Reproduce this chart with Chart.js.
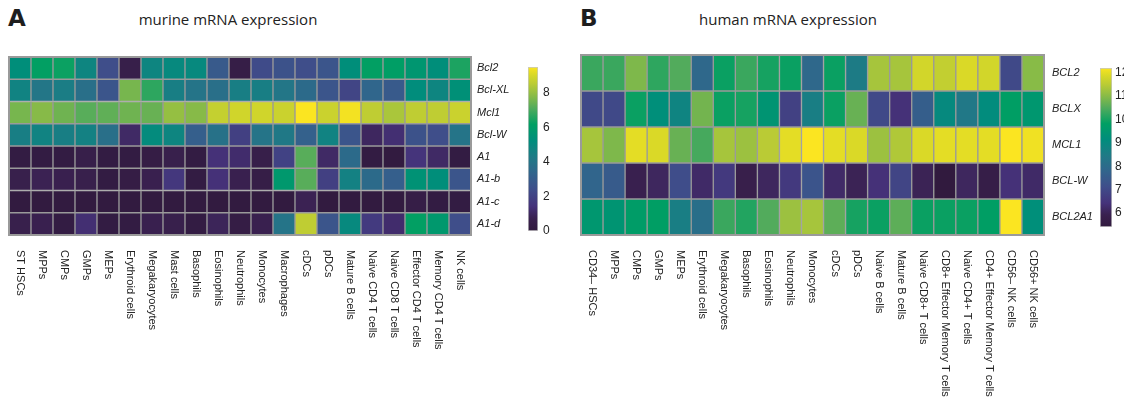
<!DOCTYPE html>
<html><head><meta charset="utf-8">
<script src="https://cdn.jsdelivr.net/npm/chart.js@4.4.1/dist/chart.umd.min.js"></script>
<style>
body{margin:0;background:#fff;width:1124px;height:398px;overflow:hidden;position:relative;font-family:"Liberation Sans",Arial,sans-serif}
canvas{position:absolute;top:0}
.letter{position:absolute;font-weight:bold;font-size:23px;line-height:23px;font-family:"DejaVu Sans",sans-serif;color:#1e1e1e}
.title{position:absolute;font-size:15px;line-height:15px;font-family:"Open Sans",sans-serif;color:#222;transform:translateX(-50%);white-space:nowrap}
</style></head><body>
<div class="letter" style="left:8px;top:7px">A</div>
<div class="title" style="left:228px;top:12px">murine mRNA expression</div>
<div class="letter" style="left:580px;top:7px">B</div>
<div class="title" style="left:788px;top:12px">human mRNA expression</div>
<canvas id="mHeat" style="left:0px" width="530" height="398"></canvas>
<canvas id="mBar" style="left:518px" width="50" height="398"></canvas>
<canvas id="hHeat" style="left:560px" width="540" height="398"></canvas>
<canvas id="hBar" style="left:1090px" width="34" height="398"></canvas>
<script>
// ---------- murine data ----------
const murineCells = ['ST HSCs','MPPs','CMPs','GMPs','MEPs','Erythroid cells','Megakaryocytes','Mast cells','Basophils','Eosinophils','Neutrophils','Monocytes','Macrophages','cDCs','pDCs','Mature B cells','Naive CD4 T cells','Naive CD8 T cells','Effector CD4 T cells','Memory CD4 T cells','NK cells'];
const murineGenes = ['Bcl2','Bcl-XL','Mcl1','Bcl-W','A1','A1-b','A1-c','A1-d'];
const murine_Bcl2  = [5.3,6.2,6.3,4.8,2.4,0.5,4.8,5.0,5.0,2.9,0.4,2.3,2.6,2.4,2.7,5.3,6.2,6.1,5.7,5.3,6.5];
const murine_BclXL = [4.7,4.1,4.4,3.8,2.7,7.6,6.7,4.5,4.0,3.8,4.5,4.5,4.1,3.6,2.7,2.1,3.4,2.9,5.2,4.8,5.4];
const murine_Mcl1  = [7.6,7.8,7.5,7.2,7.3,7.5,7.4,8.0,7.8,8.7,8.9,8.9,8.8,9.5,8.8,9.4,8.6,8.3,8.6,8.6,8.8];
const murine_BclW  = [4.5,4.7,4.5,4.6,3.8,1.1,5.1,4.8,3.1,3.9,1.9,4.0,4.2,3.2,4.7,2.7,1.0,1.3,2.6,2.4,4.0];
const murine_A1    = [0.2,0.2,0.2,0.5,0.2,0.2,0.3,0.6,0.2,1.4,1.2,0.5,2.0,7.2,1.1,3.6,0.2,0.1,1.5,1.1,0.2];
const murine_A1b   = [0.6,0.8,0.7,0.6,0.2,0.3,0.7,1.6,0.2,1.4,0.7,0.4,5.8,7.2,1.9,4.6,3.6,3.1,5.5,5.3,2.7];
const murine_A1c   = [0.1,0.1,0.1,0.1,0.1,0.1,0.1,0.1,0.1,0.1,0.1,0.1,0.1,0.8,0.1,0.1,0.1,0.1,0.4,0.2,0.2];
const murine_A1d   = [0.6,0.7,0.2,1.3,0.2,0.2,0.7,0.6,0.2,0.9,0.3,0.7,4.0,8.6,2.7,5.0,1.7,1.2,6.2,5.8,2.4];
const murineTicks = [0,2,4,6,8];
const murineMin = 0, murineMax = 9.5;

// ---------- human data ----------
const humanCells = ['CD34\u2013 HSCs','MPPs','CMPs','GMPs','MEPs','Erythroid cells','Megakaryocytes','Basophils','Eosinophils','Neutrophils','Monocytes','cDCs','pDCs','Naive B cells','Mature B cells','Naive CD8+ T cells','CD8+ Effector Memory T cells','Naive CD4+ T cells','CD4+ Effector Memory T cells','CD56\u2013 NK cells','CD56+ NK cells'];
const humanGenes = ['BCL2','BCLX','MCL1','BCL-W','BCL2A1'];
const human_BCL2   = [10.3,10.3,10.9,10.2,10.5,7.9,9.9,10.3,10.0,9.9,7.9,9.9,8.5,11.3,11.3,11.8,11.6,11.9,11.8,7.0,11.0];
const human_BCLX   = [7.0,7.0,9.9,9.2,8.8,10.8,9.9,10.0,9.4,6.8,8.6,9.9,10.7,7.0,6.4,7.6,9.0,8.4,9.1,9.8,9.5];
const human_MCL1   = [11.3,10.9,12.0,11.9,10.7,10.4,11.3,11.2,11.5,12.0,12.2,12.0,11.9,11.2,11.4,11.9,12.0,12.0,12.0,12.2,12.1];
const human_BCLW   = [7.8,7.5,5.9,6.1,7.1,6.2,6.6,5.8,6.1,6.6,7.3,6.2,6.0,6.4,6.9,6.0,5.4,6.1,5.7,6.4,6.2];
const human_BCL2A1 = [9.5,9.4,9.7,9.8,8.6,8.1,10.3,10.1,10.5,11.2,11.3,10.6,10.0,9.9,10.6,9.9,9.9,9.9,9.8,12.2,9.2];
const humanTicks = [6,7,8,9,10,11,12];
const humanMin = 5.4, humanMax = 12.2;

// ---------- colour map (printed viridis) ----------
const cmapStops = [[0.00,'#311a3e'],[0.08,'#3a2150'],[0.15,'#45327a'],[0.25,'#3f4d8a'],[0.35,'#32648c'],[0.45,'#1f7a86'],[0.55,'#008d7c'],[0.65,'#009f63'],[0.75,'#52ab5c'],[0.82,'#86ba48'],[0.90,'#bccc34'],[0.96,'#dcda26'],[1.00,'#fbe521']];
function hex2rgb(h){return [parseInt(h.substr(1,2),16),parseInt(h.substr(3,2),16),parseInt(h.substr(5,2),16)];}
function colormap(t){
  t = Math.max(0, Math.min(1, t));
  for (let i = 1; i < cmapStops.length; i++) {
    if (t <= cmapStops[i][0]) {
      const [t0,c0] = cmapStops[i-1], [t1,c1] = cmapStops[i];
      const f = (t - t0) / (t1 - t0), a = hex2rgb(c0), b = hex2rgb(c1);
      return 'rgb(' + a.map((v,k)=>Math.round(v + (b[k]-v)*f)).join(',') + ')';
    }
  }
  return cmapStops[cmapStops.length-1][1];
}

const FONT = '"Liberation Sans", Arial, sans-serif';
const GRID = '#9a9a9a';

const xLabelPlugin = {
  id: 'xlabels',
  afterDraw(chart) {
    const {ctx, chartArea, scales: {x}} = chart;
    ctx.save();
    ctx.font = '11px ' + FONT;
    ctx.fillStyle = '#222';
    ctx.textBaseline = 'middle';
    ctx.textAlign = 'left';
    x.getLabels().forEach((lab, i) => {
      const px = x.getPixelForValue(i);
      ctx.save();
      ctx.translate(px, chartArea.bottom + 15);
      ctx.rotate(Math.PI / 2);
      ctx.fillText(lab, 0, 0);
      ctx.restore();
    });
    ctx.restore();
  }
};
const framePlugin = {
  id: 'frame',
  afterDatasetsDraw(chart) {
    const {ctx, chartArea: a} = chart;
    ctx.save();
    ctx.strokeStyle = GRID;
    ctx.lineWidth = 2;
    ctx.strokeRect(a.left, a.top, a.right - a.left, a.bottom - a.top);
    ctx.restore();
  }
};

function makeHeatmap(id, cells, genes, rows, vmin, vmax, g) {
  const datasets = rows.map((vals, r) => ({
    label: genes[r],
    data: vals.map(() => [r, r + 1]),
    backgroundColor: vals.map(v => colormap((v - vmin) / (vmax - vmin))),
    borderColor: GRID, borderWidth: 1, borderSkipped: false,
    barPercentage: 1, categoryPercentage: 1, grouped: false, yAxisID: 'y'
  }));
  return new Chart(document.getElementById(id), {
    type: 'bar',
    data: { labels: cells, datasets },
    options: {
      responsive: false, animation: false, events: [],
      layout: { padding: { left: g.left, top: g.top, right: 0, bottom: 0 } },
      plugins: { legend: { display: false }, tooltip: { enabled: false } },
      scales: {
        x: { type: 'category', offset: true, grid: { display: false, drawTicks: false }, border: { display: false },
             ticks: { display: false }, afterFit: s => { s.height = 398 - g.bottom; } },
        y: { type: 'linear', min: 0, max: genes.length, reverse: true, display: false },
        y2: { type: 'category', labels: genes, position: 'right', offset: true,
              grid: { display: false, drawTicks: false }, border: { display: false },
              ticks: { color: '#222', padding: g.labPad, font: { family: FONT, size: 11, style: 'italic' } },
              afterFit: s => { s.width = g.axisW; } }
      }
    },
    plugins: [xLabelPlugin, framePlugin]
  });
}

function makeColorbar(id, vmin, vmax, tickVals, g) {
  return new Chart(document.getElementById(id), {
    type: 'bar',
    data: { labels: [''], datasets: [{
      data: [[vmin, vmax]],
      backgroundColor: ctx => {
        const a = ctx.chart.chartArea;
        if (!a) return '#888';
        const gr = ctx.chart.ctx.createLinearGradient(0, a.bottom, 0, a.top);
        for (let i = 0; i <= 40; i++) gr.addColorStop(i / 40, colormap(i / 40));
        return gr;
      },
      borderColor: '#c8c8c8', borderWidth: 1, borderSkipped: false,
      barPercentage: 1, categoryPercentage: 1 }] },
    options: {
      responsive: false, animation: false, events: [],
      layout: { padding: { left: g.left, top: g.top, right: 0, bottom: 398 - g.bottom } },
      plugins: { legend: { display: false }, tooltip: { enabled: false } },
      scales: {
        x: { display: false },
        y: { position: 'right', min: vmin, max: vmax,
             grid: { display: false, drawTicks: false }, border: { display: false },
             afterBuildTicks: s => { s.ticks = tickVals.map(v => ({ value: v })); },
             ticks: { color: '#222', padding: g.labPad, font: { family: FONT, size: 12 } },
             afterFit: s => { s.width = g.axisW; } }
      }
    }
  });
}

makeHeatmap('mHeat', murineCells, murineGenes,
  [murine_Bcl2, murine_BclXL, murine_Mcl1, murine_BclW, murine_A1, murine_A1b, murine_A1c, murine_A1d],
  murineMin, murineMax, { left: 9, top: 57, bottom: 235, axisW: 59, labPad: 6 });
makeColorbar('mBar', murineMin, murineMax, murineTicks, { left: 10, top: 67, bottom: 231, axisW: 30, labPad: 5 });

makeHeatmap('hHeat', humanCells, humanGenes,
  [human_BCL2, human_BCLX, human_MCL1, human_BCLW, human_BCL2A1],
  humanMin, humanMax, { left: 21, top: 55, bottom: 235, axisW: 56, labPad: 8 });
makeColorbar('hBar', humanMin, humanMax, humanTicks, { left: 10, top: 68, bottom: 227, axisW: 12, labPad: 3 });
</script>
</body></html>
